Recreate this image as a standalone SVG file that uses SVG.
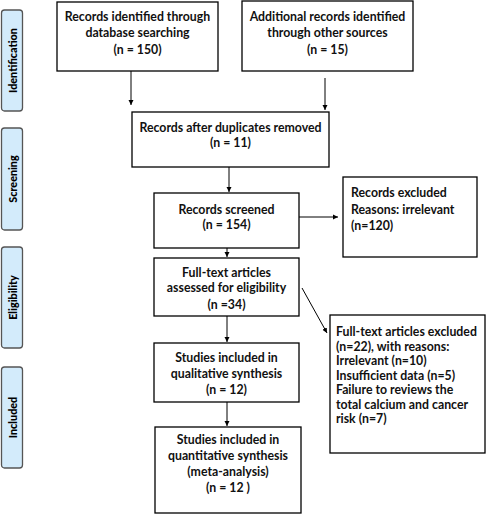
<svg xmlns="http://www.w3.org/2000/svg" width="486" height="514" viewBox="0 0 486 514">
<defs>
<marker id="ah" markerWidth="6" markerHeight="6" refX="5" refY="3" orient="auto" markerUnits="userSpaceOnUse"><path d="M0,0.5 L5,3 L0,5.5 Z" fill="#000"/></marker>
<style>
.box{fill:#fff;stroke:#000;stroke-width:1.3}
.side{fill:#d3ebfb;stroke:#555;stroke-width:1.3}
text{font-family:Lato,"Liberation Sans",sans-serif;font-weight:bold;font-size:12.3px;fill:#111}
.c{text-anchor:middle}
.s{font-size:10.8px;text-anchor:middle;fill:#000;font-weight:900}
.ln{stroke:#000;stroke-width:1;fill:none;marker-end:url(#ah)}
</style>
</defs>
<rect width="486" height="514" fill="#fff"/>
<g id="phase-identification"><rect class="side" x="1.5" y="10" width="21" height="101" rx="3"/><text class="s" transform="translate(16.5,60.5) rotate(-90)">Identification</text></g>
<g id="phase-screening"><rect class="side" x="1.5" y="128" width="21" height="102" rx="3"/><text class="s" transform="translate(16.5,179) rotate(-90)">Screening</text></g>
<g id="phase-eligibility"><rect class="side" x="1.5" y="247" width="21" height="101" rx="3"/><text class="s" transform="translate(16.5,297.5) rotate(-90)">Eligibility</text></g>
<g id="phase-included"><rect class="side" x="1.5" y="367" width="21" height="101" rx="3"/><text class="s" transform="translate(16.5,417.5) rotate(-90)">Included</text></g>
<g id="connectors">
<path class="ln" d="M131,71 V105"/>
<path class="ln" d="M325,78 V110"/>
<path class="ln" d="M229,167 V192"/>
<path class="ln" d="M299,217 H338"/>
<path class="ln" d="M227,248 V257"/>
<path class="ln" d="M302,288 L327,333"/>
<path class="ln" d="M227,316 V342"/>
<path class="ln" d="M227,402 V426"/>
</g>
<g id="n1"><rect class="box" x="57" y="2" width="161" height="69"/><text class="c" x="137.5" y="21">Records identified through</text><text class="c" x="137.5" y="37">database searching</text><text class="c" x="137.5" y="54">(n = 150)</text></g>
<g id="n2"><rect class="box" x="242" y="1" width="171" height="70"/><text class="c" x="327.5" y="21">Additional records identified</text><text class="c" x="327.5" y="37">through other sources</text><text class="c" x="327.5" y="54">(n = 15)</text></g>
<g id="n3"><rect class="box" x="132" y="112" width="197" height="55"/><text class="c" x="230.5" y="132">Records after duplicates removed</text><text class="c" x="230.5" y="147">(n = 11)</text></g>
<g id="n4"><rect class="box" x="154" y="193" width="145" height="55"/><text class="c" x="226.5" y="214">Records screened</text><text class="c" x="226.5" y="229">(n = 154)</text></g>
<g id="n5"><rect class="box" x="343" y="177" width="134" height="80"/><text x="351" y="197">Records excluded</text><text x="351" y="214">Reasons: irrelevant</text><text x="351" y="230">(n=120)</text></g>
<g id="n6"><rect class="box" x="154" y="258" width="145" height="58"/><text class="c" x="226.5" y="277">Full-text articles</text><text class="c" x="226.5" y="292">assessed for eligibility</text><text class="c" x="226.5" y="309">(n =34)</text></g>
<g id="n7"><rect class="box" x="330" y="315" width="155" height="138"/><text x="336" y="336">Full-text articles excluded</text><text x="336" y="350.5">(n=22), with reasons:</text><text x="336" y="365">Irrelevant (n=10)</text><text x="336" y="380">Insufficient data (n=5)</text><text x="336" y="394">Failure to reviews the</text><text x="336" y="409">total calcium and  cancer</text><text x="336" y="423">risk (n=7)</text></g>
<g id="n8"><rect class="box" x="154" y="343" width="145" height="59"/><text class="c" x="226.5" y="362">Studies included in</text><text class="c" x="226.5" y="378">qualitative synthesis</text><text class="c" x="226.5" y="394">(n = 12)</text></g>
<g id="n9"><rect class="box" x="155" y="427" width="146" height="86"/><text class="c" x="228" y="444">Studies included in</text><text class="c" x="228" y="460">quantitative synthesis</text><text class="c" x="228" y="476">(meta-analysis)</text><text class="c" x="228" y="492">(n = 12  )</text></g>
</svg>
